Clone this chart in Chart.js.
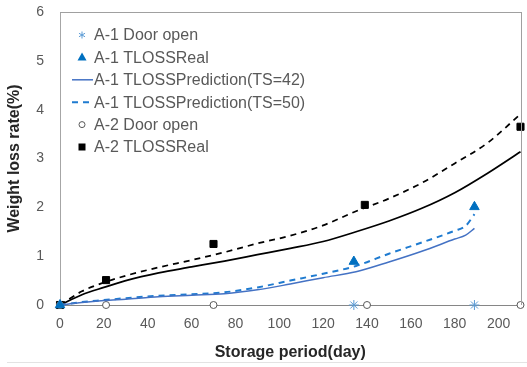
<!DOCTYPE html>
<html>
<head>
<meta charset="utf-8">
<script src="https://cdn.jsdelivr.net/npm/chart.js@4/dist/chart.umd.min.js"></script>
<style>
  html, body { margin: 0; padding: 0; background: #fff; }
  #wrap { width: 527px; height: 367px; }
</style>
</head>
<body>
<div id="wrap"><canvas id="chart" width="527" height="367"></canvas></div>
<script>
/* ---------- data ---------- */
const a1DoorDays = [134, 189];
const a1RealDays = [0, 134, 189];
const a1RealVals = [0, 0.89, 2.01];

const a1PredDays = [0, 10, 20, 30, 45, 60, 75, 90, 105, 120, 135, 150, 165, 180, 185, 189];
const a1Pred42 = [0, 0.05, 0.09, 0.12, 0.17, 0.2, 0.23, 0.31, 0.43, 0.56, 0.68, 0.88, 1.1, 1.35, 1.43, 1.57];
const a1Pred50 = [0, 0.06, 0.1, 0.14, 0.19, 0.22, 0.26, 0.36, 0.5, 0.64, 0.8, 1.05, 1.28, 1.52, 1.62, 1.86];

const a2DoorDays = [0, 21, 70, 140, 210];
const a2RealDays = [0, 21, 70, 139, 210];
const a2RealVals = [0, 0.51, 1.25, 2.05, 3.65];

const a2PredDays = [0, 10, 20, 30, 45, 60, 75, 90, 105, 120, 135, 150, 165, 180, 195, 210];
const a2Pred42 = [0, 0.21, 0.36, 0.5, 0.66, 0.78, 0.9, 1.03, 1.16, 1.3, 1.5, 1.72, 1.98, 2.3, 2.7, 3.14];
const a2Pred50 = [0, 0.28, 0.46, 0.6, 0.77, 0.92, 1.08, 1.26, 1.42, 1.63, 1.92, 2.18, 2.5, 2.9, 3.32, 3.91];

const xTicks = [0, 20, 40, 60, 80, 100, 120, 140, 160, 180, 200];
const yTicks = [0, 1, 2, 3, 4, 5, 6];

const pts = (xs, ys) => xs.map((x, i) => ({ x: x, y: ys[i] }));
const zeros = xs => xs.map(x => ({ x: x, y: 0 }));

Chart.defaults.font.family = "'Liberation Sans', Arial, sans-serif";
Chart.defaults.color = "#595959";

/* ---------- datasets ---------- */
const markerSet = (label, data, style, fill, stroke, r, legend) => ({
    label, data, showLine: false, pointStyle: style, pointRadius: r, pointHoverRadius: r,
    pointBackgroundColor: fill, pointBorderColor: stroke, pointBorderWidth: 1,
    borderColor: stroke, backgroundColor: fill, clip: false, inLegend: legend
});
const lineSet = (label, data, color, width, dash, legend) => ({
    label, data, showLine: true, pointRadius: 0, borderColor: color, backgroundColor: color,
    borderWidth: width, borderDash: dash, cubicInterpolationMode: "monotone", clip: false, inLegend: legend
});

const datasets = [
    markerSet("A-1 Door open", zeros(a1DoorDays), "star", "#5B9BD5", "#5B9BD5", 5, true),
    markerSet("A-1 TLOSSReal", pts(a1RealDays, a1RealVals), "triangle", "#0070C0", "#0070C0", 5.5, true),
    lineSet("A-1 TLOSSPrediction(TS=42)", pts(a1PredDays, a1Pred42), "#4472C4", 1.5, [], true),
    lineSet("A-1 TLOSSPrediction(TS=50)", pts(a1PredDays, a1Pred50), "#1F7BD0", 2, [6, 5], true),
    markerSet("A-2 Door open", zeros(a2DoorDays), "circle", "#ffffff", "#595959", 3.5, true),
    markerSet("A-2 TLOSSReal", pts(a2RealDays, a2RealVals), "rect", "#000000", "#000000", 5, true),
    lineSet("A-2 TLOSSPrediction(TS=42)", pts(a2PredDays, a2Pred42), "#000000", 1.75, [], false),
    lineSet("A-2 TLOSSPrediction(TS=50)", pts(a2PredDays, a2Pred50), "#000000", 1.75, [6, 5], false)
];

/* ---------- frame + legend drawn inside the plot ---------- */
function legendMarker(ctx, ds, x, y) {
    ctx.save();
    ctx.strokeStyle = ds.borderColor;
    ctx.fillStyle = ds.pointBackgroundColor || ds.backgroundColor;
    ctx.lineWidth = 1;
    if (ds.showLine) {
        ctx.lineWidth = ds.borderWidth;
        ctx.setLineDash(ds.borderDash || []);
        ctx.beginPath();
        ctx.moveTo(x - 10, y);
        ctx.lineTo(x + 11, y);
        ctx.stroke();
    } else if (ds.pointStyle === "star") {
        const r = 3.5;
        ctx.beginPath();
        ctx.moveTo(x, y - r); ctx.lineTo(x, y + r);
        ctx.moveTo(x - r * 0.87, y - r * 0.5); ctx.lineTo(x + r * 0.87, y + r * 0.5);
        ctx.moveTo(x - r * 0.87, y + r * 0.5); ctx.lineTo(x + r * 0.87, y - r * 0.5);
        ctx.stroke();
    } else if (ds.pointStyle === "triangle") {
        ctx.beginPath();
        ctx.moveTo(x, y - 5); ctx.lineTo(x + 4.5, y + 3); ctx.lineTo(x - 4.5, y + 3);
        ctx.closePath(); ctx.fill();
    } else if (ds.pointStyle === "circle") {
        ctx.beginPath();
        ctx.arc(x, y, 3, 0, Math.PI * 2);
        ctx.fill(); ctx.stroke();
    } else if (ds.pointStyle === "rect") {
        ctx.fillRect(x - 3.5, y - 3.5, 7, 7);
    }
    ctx.restore();
}

const framePlugin = {
    id: "frame",
    afterDraw(chart) {
        const { ctx, chartArea: a } = chart;
        const xs = chart.scales.x, ys = chart.scales.y;
        ctx.save();
        // top + right border of the plot box, placed from the scales
        const l = Math.round(xs.getPixelForValue(0));
        const r = Math.round(xs.getPixelForValue(210));
        const t = Math.round(ys.getPixelForValue(6));
        const b = Math.round(ys.getPixelForValue(0));
        ctx.fillStyle = "#a0a0a0";
        ctx.fillRect(l, t, r - l + 1, 1);
        ctx.fillRect(r, t, 1, b - t);
        // faint rule under the axis title
        ctx.fillStyle = "#e3e3e3";
        ctx.fillRect(7, 362, 520, 1);

        // legend
        ctx.font = "16px 'Liberation Sans', Arial, sans-serif";
        ctx.textBaseline = "middle";
        let row = 0;
        chart.data.datasets.forEach(ds => {
            if (!ds.inLegend) return;
            const y = t + 23 + row * 22.4;
            legendMarker(ctx, ds, l + 22, y);
            ctx.fillStyle = "#595959";
            ctx.fillText(ds.label, l + 34, y + 1);
            row++;
        });
        ctx.restore();
    }
};

/* ---------- chart ---------- */
new Chart(document.getElementById("chart"), {
    type: "scatter",
    data: { datasets },
    plugins: [framePlugin],
    options: {
        responsive: false,
        animation: false,
        layout: { padding: { left: 0, top: 12, right: 3, bottom: 0 } },
        plugins: { legend: { display: false }, tooltip: { enabled: false } },
        scales: {
            x: {
                type: "linear", min: 0, max: 210,
                afterBuildTicks: s => { s.ticks = xTicks.map(v => ({ value: v })); },
                afterFit: s => { s.height = 62; s.paddingLeft = 0; s.paddingRight = 0; },
                grid: { display: false, drawTicks: false },
                border: { display: true, color: "#868686", width: 1 },
                ticks: { font: { size: 14 }, color: "#595959", padding: 11, maxRotation: 0 },
                title: {
                    display: true, text: "Storage period(day)", color: "#262626",
                    font: { size: 16, weight: "bold" }, padding: { top: 4, bottom: 5 }
                }
            },
            y: {
                type: "linear", min: 0, max: 6,
                afterBuildTicks: s => { s.ticks = yTicks.map(v => ({ value: v })); },
                afterFit: s => { s.width = 60; s.paddingTop = 8; s.paddingBottom = 8; },
                grid: { display: false, drawTicks: false },
                border: { display: true, color: "#a6a6a6", width: 1 },
                ticks: { font: { size: 14 }, color: "#595959", padding: 16 },
                title: {
                    display: true, text: "Weight loss rate(%)", color: "#262626",
                    font: { size: 16, weight: "bold" }, padding: { top: 5, bottom: 0 }
                }
            }
        }
    }
});
</script>
</body>
</html>
